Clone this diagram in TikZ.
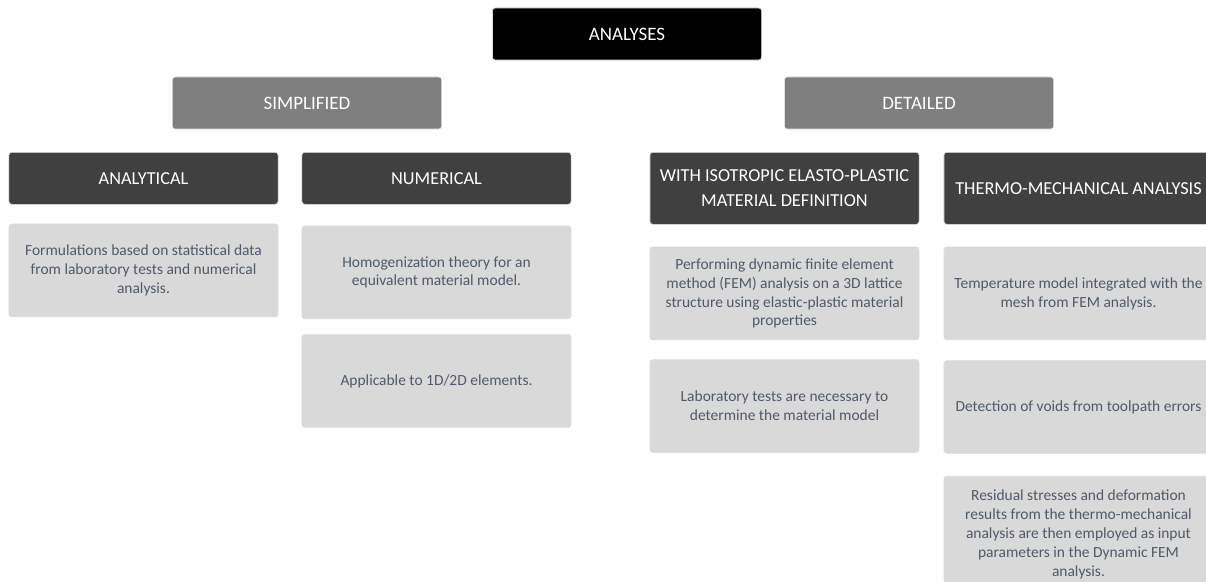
\documentclass[tikz,border=0pt]{standalone}
\usepackage{fontspec}
\setmainfont{Carlito}
\usepackage{tikz}
\usetikzlibrary{positioning}

\definecolor{groupgray}{HTML}{7F7F7F}
\definecolor{headgray}{HTML}{404040}
\definecolor{itemgray}{HTML}{D9D9D9}
\definecolor{itemtext}{HTML}{505A69}

\begin{document}
\begin{tikzpicture}[x=0.025cm,y=-0.025cm,node distance=0.5cm,
  box/.style={rectangle,rounded corners=2pt,draw=black!12,line width=0.4pt,minimum width=6.725cm,align=center},
  top node/.style={box,fill=black,text=white,minimum height=1.3cm,font=\fontsize{13.5}{16}\selectfont},
  group node/.style={box,fill=groupgray,text=white,minimum height=1.3cm,font=\fontsize{13.5}{16}\selectfont},
  head node/.style={box,fill=headgray,text=white,minimum height=1.3cm,font=\fontsize{13}{18}\selectfont},
  item node/.style={box,fill=itemgray,text=itemtext,minimum height=2.325cm,font=\fontsize{11}{13.5}\selectfont}]

  \useasboundingbox (0,0) rectangle (1206,581);
  \clip (0,0) rectangle (1206,581);

  % Top levels
  \node[top node] (ana) at (627,34) {ANALYSES};
  \node[group node] (simp) at (307,103) {SIMPLIFIED};
  \node[group node] (det) at (919,103) {DETAILED};

  % Method headers
  \node[head node,anchor=north] (anl) at (143.5,152) {ANALYTICAL};
  \node[head node,anchor=north] (num) at (436.5,152) {NUMERICAL};
  \node[head node,anchor=north,minimum height=1.8cm] (iso) at (784.5,152) {WITH ISOTROPIC ELASTO-PLASTIC\\MATERIAL DEFINITION};
  \node[head node,anchor=north,minimum height=1.8cm] (thm) at (1078.5,152) {THERMO-MECHANICAL ANALYSIS};

  % Descriptions
  \node[item node] (form) [below=0.475cm of anl] {Formulations based on statistical data\\from laboratory tests and numerical\\analysis.};
  \node[item node] (homog) [below=0.525cm of num] {Homogenization theory for an\\equivalent material model.};
  \node[item node] (appl) [below=0.375cm of homog] {Applicable to 1D/2D elements.};
  \node[item node] (fem) [below=0.55cm of iso] {Performing dynamic finite element\\method (FEM) analysis on a 3D lattice\\structure using elastic-plastic material\\properties};
  \node[item node] (lab) [below=0.475cm of fem] {Laboratory tests are necessary to\\determine the material model};
  \node[item node] (temp) [below=0.55cm of thm] {Temperature model integrated with the\\mesh from FEM analysis.};
  \node[item node] (void) [below=of temp] {Detection of voids from toolpath errors};
  \node[item node,minimum height=2.9cm] (resid) [below=0.55cm of void] {Residual stresses and deformation\\results from the thermo-mechanical\\analysis are then employed as input\\parameters in the Dynamic FEM\\analysis.};

\end{tikzpicture}
\end{document}
